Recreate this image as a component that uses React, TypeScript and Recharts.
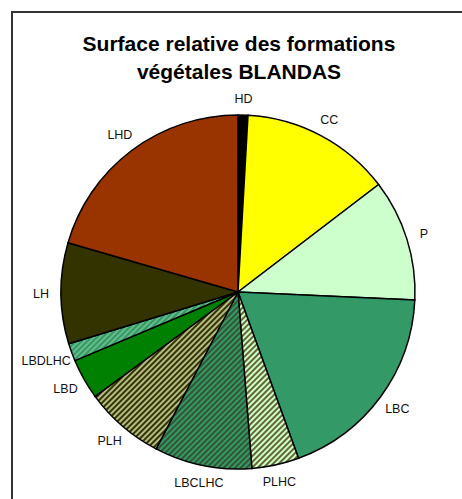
import React from 'react';
import { PieChart, Pie, Cell } from 'recharts';

// Surface share (%) per vegetation formation
const categories = ['HD', 'CC', 'P', 'LBC', 'PLHC', 'LBCLHC', 'PLH', 'LBD', 'LBDLHC', 'LH', 'LHD'];
const values = [0.9, 13.7, 11.1, 18.7, 4.3, 8.9, 7.3, 3.7, 1.6, 9.2, 20.5];
const fills = [
  '#000000',
  '#FFFF00',
  '#CCFFCC',
  '#339966',
  'url(#hatchPLHC)',
  'url(#hatchLBCLHC)',
  'url(#hatchPLH)',
  '#008000',
  'url(#hatchLBDLHC)',
  '#333300',
  '#993300',
];

const data = categories.map((name, i) => ({ name, value: values[i] }));

const RAD = Math.PI / 180;

const renderLabel = (props: any) => {
  const { cx, cy, midAngle, outerRadius, name } = props;
  // push wide labels a bit further out on the left/right sides
  const w = String(name).length * 7.8;
  const r = outerRadius + 16 + 0.25 * w * Math.abs(Math.cos(-midAngle * RAD));
  const x = cx + r * Math.cos(-midAngle * RAD);
  const y = cy + r * Math.sin(-midAngle * RAD);
  return (
    <text
      x={x}
      y={y}
      fill="#111"
      textAnchor="middle"
      dominantBaseline="central"
      fontSize={12.5}
      fontFamily="'Liberation Sans', Arial, sans-serif"
    >
      {name}
    </text>
  );
};

// diagonal stripes, like the Excel hatch fills
const Hatch = ({ id, base, stripe }: { id: string; base: string; stripe: string }) => (
  <pattern id={id} width={4} height={4} patternUnits="userSpaceOnUse" patternTransform="rotate(45)">
    <rect width={4} height={4} fill={base} />
    <rect width={2} height={4} fill={stripe} />
  </pattern>
);

export default function App() {
  return (
    <div style={{ position: 'absolute', left: 0, top: 0, width: 462, height: 499, background: '#fff', overflow: 'hidden' }}>
      {/* frame (only top and left edges show in the picture) */}
      <div style={{ position: 'absolute', left: 11, top: 11, width: 460, height: 2, background: '#333' }} />
      <div style={{ position: 'absolute', left: 11, top: 11, width: 2, height: 500, background: '#333' }} />
      <div
        style={{
          position: 'absolute',
          left: 8,
          top: 30,
          width: 462,
          textAlign: 'center',
          fontFamily: "'Liberation Sans', Arial, sans-serif",
          fontWeight: 'bold',
          fontSize: 21,
          lineHeight: '28px',
          color: '#000',
        }}
      >
        Surface relative des formations
        <br />
        végétales BLANDAS
      </div>
      <div style={{ position: 'absolute', left: 0, top: 0 }}>
        <PieChart width={462} height={499}>
          <defs>
            <Hatch id="hatchPLHC" base="#CCFFCC" stripe="#666633" />
            <Hatch id="hatchLBCLHC" base="#339966" stripe="#335533" />
            <Hatch id="hatchPLH" base="#B4BC84" stripe="#333300" />
            <Hatch id="hatchLBDLHC" base="#339966" stripe="#66BB88" />
          </defs>
          <Pie
            data={data}
            dataKey="value"
            nameKey="name"
            cx={233}
            cy={287}
            outerRadius={177}
            startAngle={90}
            endAngle={-270}
            stroke="#000"
            strokeWidth={1.5}
            label={renderLabel}
            labelLine={false}
            isAnimationActive={false}
          >
            {data.map((d, i) => (
              <Cell key={d.name} fill={fills[i]} />
            ))}
          </Pie>
        </PieChart>
      </div>
    </div>
  );
}
